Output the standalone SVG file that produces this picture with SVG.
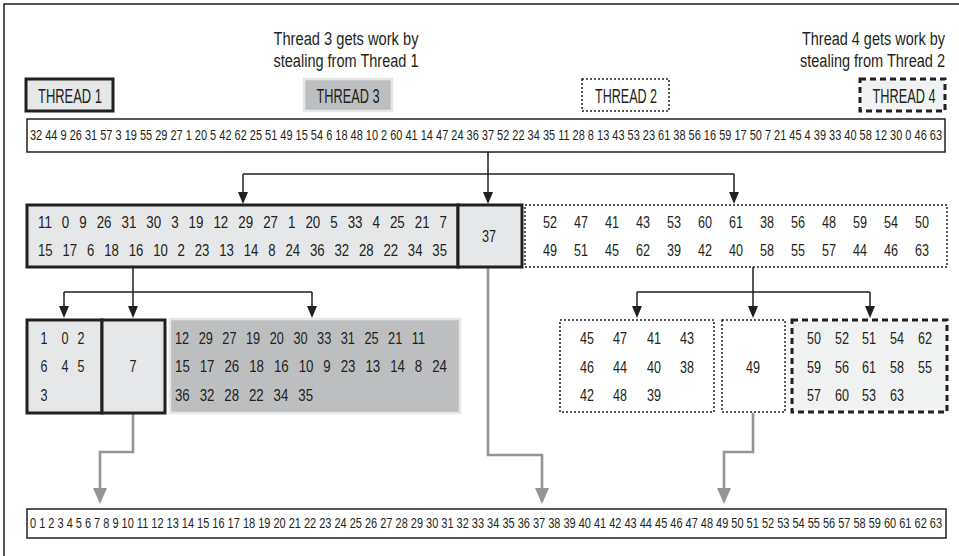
<svg xmlns="http://www.w3.org/2000/svg" width="959" height="556" viewBox="0 0 959 556">
<style>
text{font-family:"Liberation Sans Narrow","Liberation Sans",Arial,sans-serif;fill:#231f20}
.h{font-size:18px}
.lbl{font-size:21px;text-anchor:middle}
.bar{font-size:15px}
.n{font-size:17px}
.row{font-size:17px;word-spacing:8px}
.c{text-anchor:middle}
.t1{fill:#e6e7e8;stroke:#231f20;stroke-width:3}
.t3{fill:#bcbec0;stroke:#e6e7e8;stroke-width:2.5}
.t2{fill:#fff;stroke:#231f20;stroke-width:1.5;stroke-dasharray:2 2}
.t4{fill:#f1f2f2;stroke:#231f20;stroke-width:3;stroke-dasharray:6 4}
.barbox{fill:#fff;stroke:#231f20;stroke-width:1.5}
.blk{fill:none;stroke:#231f20;stroke-width:1.5}
.gry{fill:none;stroke:#939598;stroke-width:2.6}
</style>
<defs>
<marker id="ab" markerUnits="userSpaceOnUse" markerWidth="12" markerHeight="10" refX="10" refY="5" orient="auto" viewBox="0 0 12 10">
<path d="M0,0 L12,5 L0,10 Z" fill="#231f20"/>
</marker>
<marker id="ag" markerUnits="userSpaceOnUse" markerWidth="16" markerHeight="14" refX="13" refY="7" orient="auto" viewBox="0 0 16 14">
<path d="M0,0 L16,7 L0,14 Z" fill="#939598"/>
</marker>
</defs>
<path d="M4,556 V4 H959" fill="none" stroke="#231f20" stroke-width="1.5"/>

<text class="h" x="346" y="45" text-anchor="middle" textLength="145" lengthAdjust="spacingAndGlyphs">Thread 3 gets work by</text>
<text class="h" x="346" y="67" text-anchor="middle" textLength="145" lengthAdjust="spacingAndGlyphs">stealing from Thread 1</text>
<text class="h" x="945" y="45" text-anchor="end" textLength="143" lengthAdjust="spacingAndGlyphs">Thread 4 gets work by</text>
<text class="h" x="945" y="67" text-anchor="end" textLength="145" lengthAdjust="spacingAndGlyphs">stealing from Thread 2</text>

<g id="thread1">
<rect class="t1" x="26" y="79" width="87" height="32"/>
<text class="lbl" x="70" y="103" textLength="64" lengthAdjust="spacingAndGlyphs">THREAD 1</text>
</g>
<g id="thread3">
<rect class="t3" x="304" y="79" width="88" height="32"/>
<text class="lbl" x="348" y="103" textLength="63" lengthAdjust="spacingAndGlyphs">THREAD 3</text>
</g>
<g id="thread2">
<rect class="t2" x="582" y="79" width="87" height="32"/>
<text class="lbl" x="626" y="103" textLength="62" lengthAdjust="spacingAndGlyphs">THREAD 2</text>
</g>
<g id="thread4">
<rect class="t4" x="860" y="79" width="85" height="32"/>
<text class="lbl" x="904" y="103" textLength="63" lengthAdjust="spacingAndGlyphs">THREAD 4</text>
</g>

<g id="input">
<rect class="barbox" x="27" y="119" width="918" height="33"/>
<text class="bar" x="30" y="140" textLength="912" lengthAdjust="spacingAndGlyphs">32 44 9 26 31 57 3 19 55 29 27 1 20 5 42 62 25 51 49 15 54 6 18 48 10 2 60 41 14 47 24 36 37 52 22 34 35 11 28 8 13 43 53 23 61 38 56 16 59 17 50 7 21 45 4 39 33 40 58 12 30 0 46 63</text>
</g>

<g id="connectors">
<path class="blk" d="M488,152 V174"/>
<path class="blk" d="M243,174 H734"/>
<path class="blk" d="M243,174 V202" marker-end="url(#ab)"/>
<path class="blk" d="M488,174 V202" marker-end="url(#ab)"/>
<path class="blk" d="M734,174 V202" marker-end="url(#ab)"/>
<path class="blk" d="M133,267 V292"/>
<path class="blk" d="M64,292 H312"/>
<path class="blk" d="M64,292 V316" marker-end="url(#ab)"/>
<path class="blk" d="M133,292 V316" marker-end="url(#ab)"/>
<path class="blk" d="M312,292 V316" marker-end="url(#ab)"/>
<path class="blk" d="M753,267 V292"/>
<path class="blk" d="M637,292 H870"/>
<path class="blk" d="M637,292 V316" marker-end="url(#ab)"/>
<path class="blk" d="M753,292 V316" marker-end="url(#ab)"/>
<path class="blk" d="M870,292 V316" marker-end="url(#ab)"/>
<path class="gry" d="M133,414 V452 H100 V501" marker-end="url(#ag)"/>
<path class="gry" d="M488,268 V455 H542 V501" marker-end="url(#ag)"/>
<path class="gry" d="M753,413 V452 H724 V501" marker-end="url(#ag)"/>
</g>

<g id="t1-part">
<rect class="t1" x="27" y="205" width="431" height="62"/>
<text class="row" x="38" y="228" textLength="409" lengthAdjust="spacingAndGlyphs">11 0 9 26 31 30 3 19 12 29 27 1 20 5 33 4 25 21 7</text>
<text class="row" x="38" y="256" textLength="409" lengthAdjust="spacingAndGlyphs">15 17 6 18 16 10 2 23 13 14 8 24 36 32 28 22 34 35</text>
</g>
<g id="pivot37">
<rect class="t1" x="458" y="205" width="64" height="62"/>
<text class="n c" x="489" y="242" textLength="14" lengthAdjust="spacingAndGlyphs">37</text>
</g>
<g id="t2-part">
<rect class="t2" x="525" y="205" width="422" height="62"/>
<text class="n" x="543" y="228" textLength="14" lengthAdjust="spacingAndGlyphs">52</text>
<text class="n" x="574" y="228" textLength="14" lengthAdjust="spacingAndGlyphs">47</text>
<text class="n" x="605" y="228" textLength="14" lengthAdjust="spacingAndGlyphs">41</text>
<text class="n" x="636" y="228" textLength="14" lengthAdjust="spacingAndGlyphs">43</text>
<text class="n" x="667" y="228" textLength="14" lengthAdjust="spacingAndGlyphs">53</text>
<text class="n" x="698" y="228" textLength="14" lengthAdjust="spacingAndGlyphs">60</text>
<text class="n" x="729" y="228" textLength="14" lengthAdjust="spacingAndGlyphs">61</text>
<text class="n" x="760" y="228" textLength="14" lengthAdjust="spacingAndGlyphs">38</text>
<text class="n" x="791" y="228" textLength="14" lengthAdjust="spacingAndGlyphs">56</text>
<text class="n" x="822" y="228" textLength="14" lengthAdjust="spacingAndGlyphs">48</text>
<text class="n" x="853" y="228" textLength="14" lengthAdjust="spacingAndGlyphs">59</text>
<text class="n" x="884" y="228" textLength="14" lengthAdjust="spacingAndGlyphs">54</text>
<text class="n" x="915" y="228" textLength="14" lengthAdjust="spacingAndGlyphs">50</text>
<text class="n" x="543" y="256" textLength="14" lengthAdjust="spacingAndGlyphs">49</text>
<text class="n" x="574" y="256" textLength="14" lengthAdjust="spacingAndGlyphs">51</text>
<text class="n" x="605" y="256" textLength="14" lengthAdjust="spacingAndGlyphs">45</text>
<text class="n" x="636" y="256" textLength="14" lengthAdjust="spacingAndGlyphs">62</text>
<text class="n" x="667" y="256" textLength="14" lengthAdjust="spacingAndGlyphs">39</text>
<text class="n" x="698" y="256" textLength="14" lengthAdjust="spacingAndGlyphs">42</text>
<text class="n" x="729" y="256" textLength="14" lengthAdjust="spacingAndGlyphs">40</text>
<text class="n" x="760" y="256" textLength="14" lengthAdjust="spacingAndGlyphs">58</text>
<text class="n" x="791" y="256" textLength="14" lengthAdjust="spacingAndGlyphs">55</text>
<text class="n" x="822" y="256" textLength="14" lengthAdjust="spacingAndGlyphs">57</text>
<text class="n" x="853" y="256" textLength="14" lengthAdjust="spacingAndGlyphs">44</text>
<text class="n" x="884" y="256" textLength="14" lengthAdjust="spacingAndGlyphs">46</text>
<text class="n" x="915" y="256" textLength="14" lengthAdjust="spacingAndGlyphs">63</text>
</g>

<g id="t1-left">
<rect class="t1" x="27" y="320" width="75" height="93"/>
<text class="n c" x="44" y="344" textLength="7" lengthAdjust="spacingAndGlyphs">1</text>
<text class="n c" x="65" y="344" textLength="7" lengthAdjust="spacingAndGlyphs">0</text>
<text class="n c" x="81" y="344" textLength="7" lengthAdjust="spacingAndGlyphs">2</text>
<text class="n c" x="44" y="372" textLength="7" lengthAdjust="spacingAndGlyphs">6</text>
<text class="n c" x="65" y="372" textLength="7" lengthAdjust="spacingAndGlyphs">4</text>
<text class="n c" x="81" y="372" textLength="7" lengthAdjust="spacingAndGlyphs">5</text>
<text class="n c" x="44" y="401" textLength="7" lengthAdjust="spacingAndGlyphs">3</text>
</g>
<g id="pivot7">
<rect class="t1" x="102" y="320" width="63" height="93"/>
<text class="n c" x="133" y="372" textLength="7" lengthAdjust="spacingAndGlyphs">7</text>
</g>
<g id="t3-part">
<rect class="t3" x="170" y="319" width="290" height="94"/>
<text class="row" x="175" y="344" textLength="250" lengthAdjust="spacingAndGlyphs">12 29 27 19 20 30 33 31 25 21 11</text>
<text class="row" x="175" y="372" textLength="272" lengthAdjust="spacingAndGlyphs">15 17 26 18 16 10 9 23 13 14 8 24</text>
<text class="row" x="175" y="401" textLength="138" lengthAdjust="spacingAndGlyphs">36 32 28 22 34 35</text>
</g>

<g id="t2-left">
<rect class="t2" x="560" y="320" width="154" height="92"/>
<text class="n" x="580" y="344" textLength="14" lengthAdjust="spacingAndGlyphs">45</text>
<text class="n" x="613" y="344" textLength="14" lengthAdjust="spacingAndGlyphs">47</text>
<text class="n" x="647" y="344" textLength="14" lengthAdjust="spacingAndGlyphs">41</text>
<text class="n" x="680" y="344" textLength="14" lengthAdjust="spacingAndGlyphs">43</text>
<text class="n" x="580" y="373" textLength="14" lengthAdjust="spacingAndGlyphs">46</text>
<text class="n" x="613" y="373" textLength="14" lengthAdjust="spacingAndGlyphs">44</text>
<text class="n" x="647" y="373" textLength="14" lengthAdjust="spacingAndGlyphs">40</text>
<text class="n" x="680" y="373" textLength="14" lengthAdjust="spacingAndGlyphs">38</text>
<text class="n" x="580" y="401" textLength="14" lengthAdjust="spacingAndGlyphs">42</text>
<text class="n" x="613" y="401" textLength="14" lengthAdjust="spacingAndGlyphs">48</text>
<text class="n" x="647" y="401" textLength="14" lengthAdjust="spacingAndGlyphs">39</text>
</g>
<g id="pivot49">
<rect class="t2" x="722" y="320" width="63" height="92"/>
<text class="n c" x="753" y="373" textLength="14" lengthAdjust="spacingAndGlyphs">49</text>
</g>
<g id="t4-part">
<rect class="t4" x="792" y="320" width="155" height="92"/>
<text class="n" x="807" y="344" textLength="14" lengthAdjust="spacingAndGlyphs">50</text>
<text class="n" x="835" y="344" textLength="14" lengthAdjust="spacingAndGlyphs">52</text>
<text class="n" x="862" y="344" textLength="14" lengthAdjust="spacingAndGlyphs">51</text>
<text class="n" x="890" y="344" textLength="14" lengthAdjust="spacingAndGlyphs">54</text>
<text class="n" x="918" y="344" textLength="14" lengthAdjust="spacingAndGlyphs">62</text>
<text class="n" x="807" y="373" textLength="14" lengthAdjust="spacingAndGlyphs">59</text>
<text class="n" x="835" y="373" textLength="14" lengthAdjust="spacingAndGlyphs">56</text>
<text class="n" x="862" y="373" textLength="14" lengthAdjust="spacingAndGlyphs">61</text>
<text class="n" x="890" y="373" textLength="14" lengthAdjust="spacingAndGlyphs">58</text>
<text class="n" x="918" y="373" textLength="14" lengthAdjust="spacingAndGlyphs">55</text>
<text class="n" x="807" y="401" textLength="14" lengthAdjust="spacingAndGlyphs">57</text>
<text class="n" x="835" y="401" textLength="14" lengthAdjust="spacingAndGlyphs">60</text>
<text class="n" x="862" y="401" textLength="14" lengthAdjust="spacingAndGlyphs">53</text>
<text class="n" x="890" y="401" textLength="14" lengthAdjust="spacingAndGlyphs">63</text>
</g>

<g id="output">
<rect class="barbox" x="27" y="509" width="919" height="29"/>
<text class="bar" x="30" y="528" textLength="912" lengthAdjust="spacingAndGlyphs">0 1 2 3 4 5 6 7 8 9 10 11 12 13 14 15 16 17 18 19 20 21 22 23 24 25 26 27 28 29 30 31 32 33 34 35 36 37 38 39 40 41 42 43 44 45 46 47 48 49 50 51 52 53 54 55 56 57 58 59 60 61 62 63</text>
</g>
</svg>
